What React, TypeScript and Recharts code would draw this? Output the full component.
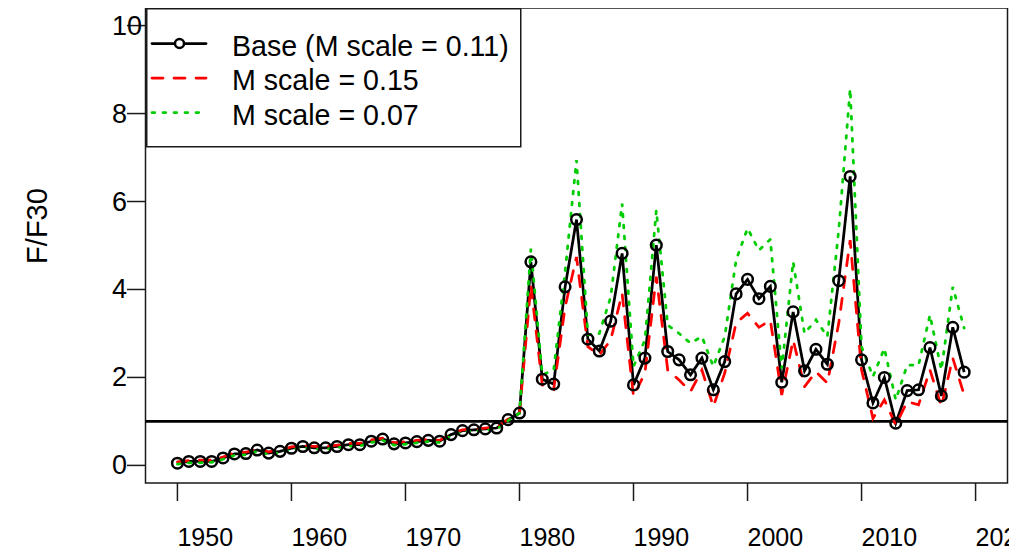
import React from 'react';
import { LineChart, Line, XAxis, YAxis, ReferenceLine, ReferenceArea, Legend } from 'recharts';

const years = [
  1950, 1951, 1952, 1953, 1954, 1955, 1956, 1957, 1958, 1959,
  1960, 1961, 1962, 1963, 1964, 1965, 1966, 1967, 1968, 1969,
  1970, 1971, 1972, 1973, 1974, 1975, 1976, 1977, 1978, 1979,
  1980, 1981, 1982, 1983, 1984, 1985, 1986, 1987, 1988, 1989,
  1990, 1991, 1992, 1993, 1994, 1995, 1996, 1997, 1998, 1999,
  2000, 2001, 2002, 2003, 2004, 2005, 2006, 2007, 2008, 2009,
  2010, 2011, 2012, 2013, 2014, 2015, 2016, 2017, 2018, 2019,
];

const baseSeries = [
  0.05, 0.09, 0.09, 0.09, 0.17, 0.26, 0.27, 0.35, 0.28, 0.32,
  0.39, 0.43, 0.40, 0.40, 0.43, 0.47, 0.47, 0.55, 0.60, 0.49,
  0.51, 0.54, 0.57, 0.55, 0.70, 0.79, 0.81, 0.83, 0.85, 1.04,
  1.19, 4.63, 1.96, 1.85, 4.06, 5.59, 2.87, 2.60, 3.28, 4.82,
  1.83, 2.44, 5.01, 2.59, 2.40, 2.06, 2.44, 1.72, 2.36, 3.90,
  4.23, 3.79, 4.07, 1.89, 3.49, 2.15, 2.64, 2.30, 4.20, 6.57,
  2.40, 1.42, 2.00, 0.96, 1.70, 1.72, 2.68, 1.58, 3.14, 2.12,
];

const mScale015 = [
  0.08, 0.11, 0.12, 0.12, 0.19, 0.29, 0.30, 0.38, 0.31, 0.35,
  0.42, 0.46, 0.43, 0.43, 0.46, 0.50, 0.50, 0.58, 0.62, 0.52,
  0.54, 0.57, 0.59, 0.57, 0.72, 0.81, 0.83, 0.85, 0.87, 1.05,
  1.19, 4.10, 1.83, 1.73, 3.60, 4.74, 2.70, 2.51, 2.85, 3.91,
  1.57, 2.10, 4.29, 2.17, 1.94, 1.68, 2.17, 1.34, 2.10, 3.24,
  3.46, 3.14, 3.30, 1.60, 2.85, 1.79, 2.13, 1.87, 3.23, 5.12,
  2.17, 1.07, 1.49, 0.92, 1.45, 1.38, 2.17, 1.34, 2.44, 1.60,
];

const mScale007 = [
  0.03, 0.06, 0.06, 0.07, 0.14, 0.23, 0.24, 0.32, 0.25, 0.29,
  0.36, 0.40, 0.37, 0.37, 0.40, 0.44, 0.44, 0.52, 0.57, 0.46,
  0.48, 0.51, 0.54, 0.52, 0.67, 0.76, 0.78, 0.80, 0.82, 1.02,
  1.19, 4.93, 2.06, 2.17, 4.40, 6.94, 2.97, 3.00, 3.83, 5.95,
  2.25, 2.85, 5.80, 3.19, 3.00, 2.78, 2.93, 2.25, 2.93, 4.67,
  5.39, 4.89, 5.14, 2.20, 4.63, 3.00, 3.31, 2.93, 5.35, 8.56,
  2.70, 2.02, 2.66, 1.49, 2.28, 2.28, 3.42, 2.17, 4.06, 3.12,
];

const xTicks = [1950, 1960, 1970, 1980, 1990, 2000, 2010, 2020];
const yTicks = [0, 2, 4, 6, 8, 10];
const refValue = 1;
const seriesNames = ['Base (M scale = 0.11)', 'M scale = 0.15', 'M scale = 0.07'];

const data = years.map((y, i) => ({
  year: y,
  base: baseSeries[i],
  m15: mScale015[i],
  m07: mScale007[i],
}));

const FONT = '"Liberation Sans", Arial, sans-serif';
const GREEN = '#00CD00';
const RED = '#FF0000';

const XTick = (props: any) => {
  const { x, payload } = props;
  return (
    <text x={x} y={529} textAnchor="start" dominantBaseline="central" fontSize={25} fontFamily={FONT} fill="#000">
      {payload.value}
    </text>
  );
};

const YTick = (props: any) => {
  const { y, payload } = props;
  return (
    <text x={104} y={y} textAnchor="start" dominantBaseline="central" fontSize={27} fontFamily={FONT} fill="#000">
      {payload.value}
    </text>
  );
};

const LegendBox = () => {
  const rows = [
    { name: seriesNames[0], color: '#000', dash: undefined as string | undefined, dot: true },
    { name: seriesNames[1], color: RED, dash: '11 11', dot: false },
    { name: seriesNames[2], color: GREEN, dash: '2.75 8.25', dot: false },
  ];
  const lineYs = [35.5, 70, 104.5];
  return (
    <svg width={376} height={140} style={{ display: 'block' }}>
      <rect x={0.75} y={0.75} width={374} height={138} fill="#fff" stroke="#1a1a1a" strokeWidth={1.5} />
      {rows.map((r, i) => (
        <g key={i}>
          <line x1={6} x2={60} y1={lineYs[i]} y2={lineYs[i]} stroke={r.color} strokeWidth={2.75}
            strokeDasharray={r.dash} strokeLinecap="round" />
          {r.dot && <circle cx={33.5} cy={lineYs[i]} r={4.5} fill="#fff" stroke="#000" strokeWidth={2.5} />}
          <text x={86} y={lineYs[i] + 2} dominantBaseline="central" fontSize={28.6} fontFamily={FONT} fill="#000">
            {r.name}
          </text>
        </g>
      ))}
    </svg>
  );
};

export default function App() {
  return (
    <div style={{ width: 1009, height: 544, position: 'relative', background: '#fff' }}>
      <LineChart width={1009} height={544} data={data} margin={{ top: 0, right: 9.5, left: 0, bottom: 0 }}
        style={{ overflow: 'visible' }}>
        <XAxis
          dataKey="year"
          type="number"
          domain={[1947.2, 2022.8]}
          ticks={xTicks}
          allowDataOverflow
          axisLine={false}
          tickSize={18}
          tickLine={{ stroke: '#1a1a1a', strokeWidth: 1.5 }}
          tick={<XTick />}
          interval={0}
          height={69}
        />
        <YAxis
          type="number"
          domain={[-0.4, 10.4]}
          ticks={yTicks}
          allowDataOverflow
          axisLine={false}
          tickSize={18.5}
          tickLine={{ stroke: '#1a1a1a', strokeWidth: 1.5 }}
          tick={<YTick />}
          width={137.5}
          label={{
            content: () => (
              <text x={29} y={218} transform="rotate(-90 29 218)" textAnchor="middle" dominantBaseline="central"
                fontSize={29} fontFamily={FONT} fill="#000">F/F30</text>
            ),
          }}
        />
        <ReferenceArea x1={1947.2} x2={2022.8} y1={-0.4} y2={10.4} fill="none" fillOpacity={0}
          stroke="#1a1a1a" strokeWidth={1.5} ifOverflow="visible" />
        <ReferenceLine y={refValue} stroke="#000" strokeWidth={2.75} />
        <Line
          dataKey="base"
          type="linear"
          stroke="#000"
          strokeWidth={2.75}
          dot={{ r: 5.3, stroke: '#000', strokeWidth: 2.5, fill: 'none' }}
          activeDot={false}
          isAnimationActive={false}
        />
        <Line
          dataKey="m15"
          type="linear"
          stroke={RED}
          strokeWidth={2.75}
          strokeDasharray="11 11"
          strokeLinecap="round"
          dot={false}
          activeDot={false}
          isAnimationActive={false}
        />
        <Line
          dataKey="m07"
          type="linear"
          stroke={GREEN}
          strokeWidth={2.75}
          strokeDasharray="2.75 8.25"
          strokeLinecap="round"
          dot={false}
          activeDot={false}
          isAnimationActive={false}
        />
        <Legend
          layout="vertical"
          align="center"
          verticalAlign="middle"
          wrapperStyle={{ position: 'absolute', left: 137.5, top: 0, width: 376, height: 140 }}
          content={() => <LegendBox />}
        />
      </LineChart>
    </div>
  );
}
